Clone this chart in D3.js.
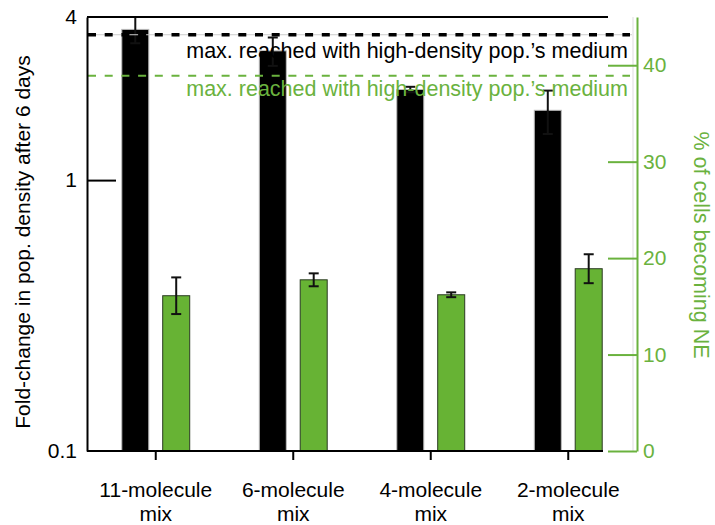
<!DOCTYPE html>
<html>
<head>
<meta charset="utf-8">
<script src="https://cdn.jsdelivr.net/npm/d3@7"></script>
<style>
  html, body { margin: 0; padding: 0; background: #fff; }
  svg text { font-family: "Liberation Sans", Arial, sans-serif; }
</style>
</head>
<body>
<svg id="chart" width="715" height="525"></svg>
<script>
// values
const categories = ['11-molecule mix', '6-molecule mix', '4-molecule mix', '2-molecule mix'];
const foldChange = [3.6, 3.0, 2.16, 1.81];
const foldErr = [0.4, 0.36, 0.05, 0.33];
const nePercent = [16.1, 17.75, 16.2, 18.9];
const neErr = [1.9, 0.67, 0.25, 1.5];
const refFold = 3.44;   // max reached with high-density pop.'s medium (left axis)
const refNE = 38.9;     // same, right axis
const leftTicks = [0.1, 1, 4];
const rightTicks = [0, 10, 20, 30, 40];

const green = '#6ab23e';
const greenFill = '#67b334';
const plotLeft = 87, plotRight = 637, plotTop = 17, plotBottom = 451;

const svg = d3.select('#chart');

let x = d3.scaleBand().domain(categories).range([plotLeft, plotRight]).padding(0);
let bw = x.bandwidth();
let x1 = d3.scaleBand().domain(['fold', 'ne'])
  .range([-0.247 * bw, 0.247 * bw]).paddingInner(0.34).paddingOuter(0);
let yL = d3.scaleLog().domain([0.1, 4]).range([plotBottom, plotTop]);
let yR = d3.scaleLinear().domain([0, 45]).range([plotBottom, plotTop]);

let rows = categories.map((c, i) => ({
  cat: c, fold: foldChange[i], foldErr: foldErr[i], ne: nePercent[i], neErr: neErr[i]
}));

// black bars
svg.append('g').selectAll('rect').data(rows).join('rect')
  .attr('x', d => x(d.cat) + bw / 2 + x1('fold'))
  .attr('y', d => yL(d.fold))
  .attr('width', x1.bandwidth())
  .attr('height', d => plotBottom - yL(d.fold))
  .attr('fill', '#000')
  .attr('stroke', '#bbb')
  .attr('stroke-width', 1);

// green bars
svg.append('g').selectAll('rect').data(rows).join('rect')
  .attr('x', d => x(d.cat) + bw / 2 + x1('ne'))
  .attr('y', d => yR(d.ne))
  .attr('width', x1.bandwidth())
  .attr('height', d => plotBottom - yR(d.ne))
  .attr('fill', greenFill)
  .attr('stroke', '#2a3a22')
  .attr('stroke-width', 1);

// error bars
let errBar = (g, cx, y0, y1) => {
  g.append('line').attr('x1', cx).attr('x2', cx).attr('y1', y0).attr('y2', y1);
  g.append('line').attr('x1', cx - 5).attr('x2', cx + 5).attr('y1', y0).attr('y2', y0);
  g.append('line').attr('x1', cx - 5).attr('x2', cx + 5).attr('y1', y1).attr('y2', y1);
};
let eg = svg.append('g').attr('stroke', '#111').attr('stroke-width', 2);
rows.forEach(d => {
  let cb = x(d.cat) + bw / 2 + x1('fold') + x1.bandwidth() / 2;
  errBar(eg, cb, yL(d.fold + d.foldErr), yL(d.fold - d.foldErr));
  let cg = x(d.cat) + bw / 2 + x1('ne') + x1.bandwidth() / 2;
  errBar(eg, cg, yR(d.ne + d.neErr), yR(d.ne - d.neErr));
});

// reference lines
svg.append('line')
  .attr('x1', plotLeft).attr('x2', 632).attr('y1', yL(refFold)).attr('y2', yL(refFold))
  .attr('stroke', '#ccc').attr('stroke-width', 1);
svg.append('line')
  .attr('x1', plotLeft + 1).attr('x2', 630).attr('y1', yL(refFold)).attr('y2', yL(refFold))
  .attr('stroke', '#000').attr('stroke-width', 3.5).attr('stroke-dasharray', '8 8.7');
svg.append('line')
  .attr('x1', plotLeft + 1).attr('x2', 630).attr('y1', yR(refNE)).attr('y2', yR(refNE))
  .attr('stroke', green).attr('stroke-width', 2).attr('stroke-dasharray', '8 8.7');

svg.append('text')
  .attr('x', 628).attr('y', yL(refFold) + 23)
  .attr('text-anchor', 'end').attr('font-size', 21.5).attr('fill', '#000')
  .text('max. reached with high-density pop.\u2019s medium');
svg.append('text')
  .attr('x', 628).attr('y', yR(refNE) + 20)
  .attr('text-anchor', 'end').attr('font-size', 21.5).attr('fill', green)
  .text('max. reached with high-density pop.\u2019s medium');

// frame: faint inner line, top and bottom lines
svg.append('line').attr('x1', 633).attr('x2', 633).attr('y1', plotTop).attr('y2', plotBottom)
  .attr('stroke', '#ddd').attr('stroke-width', 1);
svg.append('line').attr('x1', plotLeft).attr('x2', 608).attr('y1', plotTop).attr('y2', plotTop)
  .attr('stroke', '#000').attr('stroke-width', 2);
svg.append('line').attr('x1', plotLeft).attr('x2', 603).attr('y1', plotBottom).attr('y2', plotBottom)
  .attr('stroke', '#000').attr('stroke-width', 2);

// left axis
let gL = svg.append('g').attr('transform', `translate(${plotLeft},0)`)
  .call(d3.axisLeft(yL).tickValues(leftTicks).tickFormat(d3.format('')).tickSizeInner(-29).tickSizeOuter(0).tickPadding(10));
gL.select('.domain').attr('stroke', '#000').attr('stroke-width', 2);
gL.selectAll('.tick line').attr('stroke', '#000').attr('stroke-width', 2)
  .attr('display', d => d === 1 ? null : 'none');
gL.selectAll('.tick text').attr('font-size', 21).attr('fill', '#000')
  .attr('x', -10).attr('font-family', '"Liberation Sans", Arial, sans-serif');

// right axis
let gR = svg.append('g').attr('transform', `translate(${plotRight},0)`)
  .call(d3.axisRight(yR).tickValues(rightTicks).tickSizeInner(-29).tickSizeOuter(0).tickPadding(6));
gR.select('.domain').attr('stroke', green).attr('stroke-width', 2);
gR.selectAll('.tick line').attr('stroke', green).attr('stroke-width', 2);
gR.selectAll('.tick text').attr('font-size', 21).attr('fill', green)
  .attr('x', 6).attr('font-family', '"Liberation Sans", Arial, sans-serif');

// bottom axis
let gB = svg.append('g').attr('transform', `translate(0,${plotBottom})`)
  .call(d3.axisBottom(x).tickSizeInner(9).tickSizeOuter(0).tickFormat(''));
gB.select('.domain').remove();
gB.selectAll('.tick line').attr('stroke', '#000').attr('stroke-width', 2);
gB.selectAll('.tick').each(function (d) {
  let parts = d.split(' ');
  d3.select(this).append('text')
    .attr('text-anchor', 'middle').attr('font-size', 21).attr('fill', '#000')
    .selectAll('tspan').data(parts).join('tspan')
    .attr('x', 0).attr('y', (p, i) => 46 + i * 24)
    .text(p => p);
});

// axis titles
svg.append('text')
  .attr('transform', `translate(30,242) rotate(-90)`)
  .attr('text-anchor', 'middle').attr('font-size', 21).attr('fill', '#000')
  .text('Fold-change in pop. density after 6 days');
svg.append('text')
  .attr('transform', `translate(694,245) rotate(90)`)
  .attr('text-anchor', 'middle').attr('font-size', 21.5).attr('fill', green)
  .text('% of cells becoming NE');
</script>
</body>
</html>
